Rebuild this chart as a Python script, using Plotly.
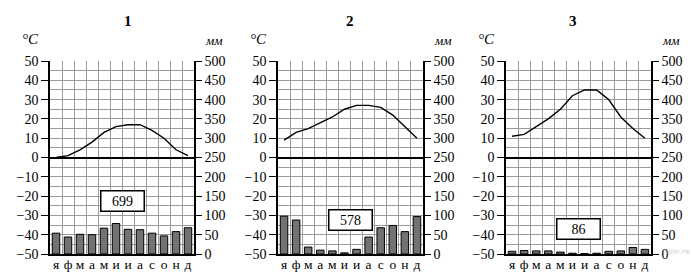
import plotly.graph_objects as go

months = ["я", "ф", "м", "а", "м", "и", "и", "а", "с", "о", "н", "д"]
panel_titles = ["1", "2", "3"]
temp1 = [0, 1, 4, 8, 13, 16, 17, 17, 14, 10, 4, 1]
temp2 = [9, 13, 15, 18, 21, 25, 27, 27, 26, 22, 16, 10]
temp3 = [11, 12, 16, 20, 25, 32, 35, 35, 30, 21, 15, 10]
prec1 = [54, 44, 51, 50, 67, 79, 64, 63, 54, 47, 58, 68]
prec2 = [98, 88, 18, 10, 8, 3, 12, 44, 68, 74, 58, 97]
prec3 = [7, 9, 8, 8, 5, 2, 1, 2, 7, 8, 17, 12]
totals = ["699", "578", "86"]
temp_ticks = [-50, -40, -30, -20, -10, 0, 10, 20, 30, 40, 50]
prec_ticks = [0, 50, 100, 150, 200, 250, 300, 350, 400, 450, 500]

temps = [temp1, temp2, temp3]
precs = [prec1, prec2, prec3]

W, H = 692, 273
x_px = [(50, 194), (278, 423), (506, 651)]
y_px = (61, 254)
box_pos = [-22.5, -32.3, -37.2]  # box centre, in °C coordinates

FONT = "Liberation Serif"
GRID = "#9a9a9a"

def fmt(v):
    return ("−" + str(-v)) if v < 0 else str(v)

fig = go.Figure()
layout = dict(
    width=W, height=H, margin=dict(l=0, r=0, t=0, b=0, autoexpand=False),
    paper_bgcolor="white", plot_bgcolor="white", showlegend=False,
    font=dict(family=FONT, size=14, color="black"),
)
annotations = []
ydom = [(H - y_px[1]) / H, (H - y_px[0]) / H]
xc = [i + 0.5 for i in range(len(months))]

for p in range(3):
    xn = "x" if p == 0 else f"x{p+1}"
    ytn = "y" if p == 0 else f"y{2*p+1}"
    ypn = f"y{2*p+2}"
    xkey = "xaxis" if p == 0 else f"xaxis{p+1}"
    ytkey = "yaxis" if p == 0 else f"yaxis{2*p+1}"
    ypkey = f"yaxis{2*p+2}"
    dom = [x_px[p][0] / W, x_px[p][1] / W]

    fig.add_trace(go.Bar(x=xc, y=precs[p], xaxis=xn, yaxis=ypn, width=0.62,
                         marker=dict(color="#727272", line=dict(color="black", width=1))))
    fig.add_trace(go.Scatter(x=xc, y=temps[p], xaxis=xn, yaxis=ytn, mode="lines",
                             line=dict(color="black", width=1.4)))

    layout[xkey] = dict(domain=dom, range=[0, 12], anchor=ytn, automargin=False,
                        tickmode="array", tickvals=xc, ticktext=months, ticks="",
                        ticklabelstandoff=-3,
                        showgrid=False, showline=True, linecolor="black", linewidth=1.5,
                        tickfont=dict(size=13.5), fixedrange=True,
                        minor=dict(tick0=0, dtick=1, showgrid=True, gridcolor=GRID, gridwidth=1, ticks=""))
    layout[ytkey] = dict(domain=ydom, range=[-50, 50], anchor=xn, automargin=False,
                         tickmode="array", tickvals=temp_ticks, ticktext=[fmt(v) for v in temp_ticks],
                         ticks="outside", ticklen=7, tickcolor="black", tickwidth=1,
                         showline=True, linecolor="black", linewidth=1.5,
                         showgrid=True, gridcolor=GRID, gridwidth=1,
                         zeroline=True, zerolinecolor="black", zerolinewidth=1.5,
                         minor=dict(dtick=5, tick0=0, showgrid=True, gridcolor=GRID, gridwidth=1, ticks=""),
                         tickfont=dict(size=14))
    layout[ypkey] = dict(domain=ydom, range=[0, 500], anchor=xn, overlaying=ytn, side="right",
                         automargin=False,
                         tickmode="array", tickvals=prec_ticks, ticktext=[str(v) for v in prec_ticks],
                         ticks="outside", ticklen=6, tickcolor="black", tickwidth=1,
                         showline=True, linecolor="black", linewidth=1.5,
                         showgrid=False, zeroline=False, tickfont=dict(size=14))

    cx = (dom[0] + dom[1]) / 2
    annotations.append(dict(text="<b>" + panel_titles[p] + "</b>", x=cx, y=(H - 21) / H,
                            xref="paper", yref="paper", showarrow=False, yanchor="middle",
                            font=dict(size=15, family=FONT)))
    annotations.append(dict(text="<i>°C</i>", x=dom[0], xshift=-9, xanchor="right",
                            y=(H - 39) / H, yanchor="middle", xref="paper", yref="paper",
                            showarrow=False, font=dict(size=15, family=FONT)))
    annotations.append(dict(text="<i>мм</i>", x=dom[1], xshift=9, xanchor="left",
                            y=(H - 40) / H, yanchor="middle", xref="paper", yref="paper",
                            showarrow=False, font=dict(size=13, family=FONT)))
    annotations.append(dict(text=totals[p], x=6, y=box_pos[p], xref=xn, yref=ytn,
                            showarrow=False, bgcolor="white", bordercolor="black",
                            borderwidth=1.5, borderpad=0, width=42, height=19,
                            font=dict(size=14, family=FONT)))

annotations.append(dict(text="ВПР.РФ", x=(W - 1) / W, y=(H - 251) / H, xanchor="right",
                        yanchor="middle", xref="paper", yref="paper", showarrow=False,
                        borderpad=0, font=dict(size=6, family="DejaVu Sans", color="#d0d0d0")))
layout["annotations"] = annotations
fig.update_layout(**layout)
fig.write_html("out.html", config={"displayModeBar": False},
               post_script="document.body.style.margin='0px';")
